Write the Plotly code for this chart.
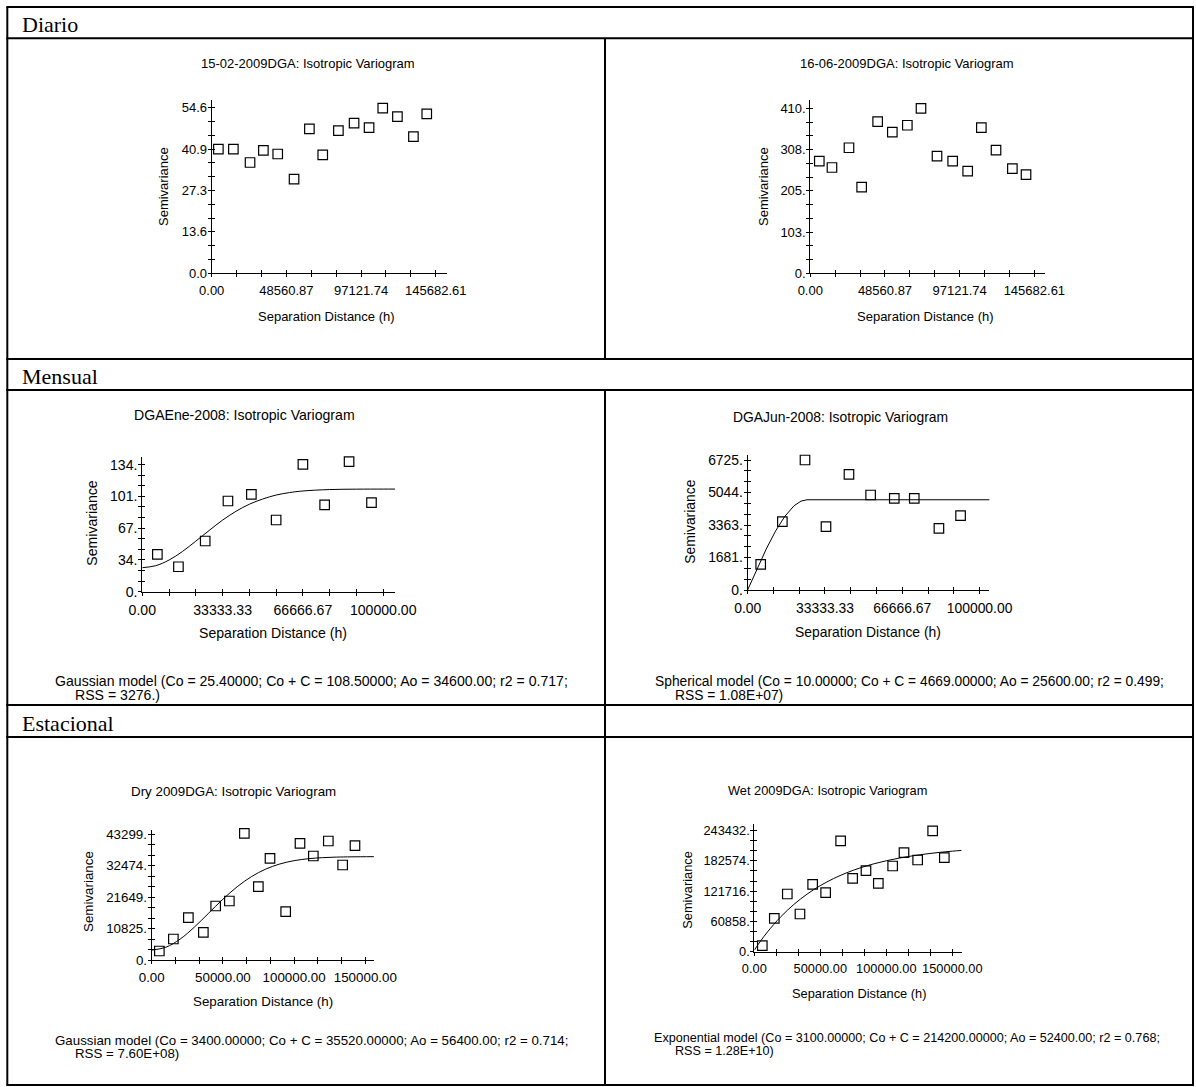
import numpy as np
import plotly.graph_objects as go

W, H = 1196, 1087

# ---------------- data ----------------
row_labels = ["Diario", "Mensual", "Estacional"]

titles = [
    "15-02-2009DGA: Isotropic Variogram",
    "16-06-2009DGA: Isotropic Variogram",
    "DGAEne-2008: Isotropic Variogram",
    "DGAJun-2008: Isotropic Variogram",
    "Dry 2009DGA: Isotropic Variogram",
    "Wet 2009DGA: Isotropic Variogram",
]
x_title = "Separation Distance (h)"
y_title = "Semivariance"

# panel 1: 15-02-2009
p1_x = [4336, 14091, 24932, 33603, 42925, 53548, 63520, 72192, 82381, 92570,
        102325, 111214, 120753, 131159, 139830]
p1_y = [40.9, 40.9, 36.5, 40.5, 39.3, 31.0, 47.6, 39.0, 47.0, 49.5, 48.0, 54.4, 51.6, 45.0, 52.5]
p1_xticks = [0.0, 48560.87, 97121.74, 145682.61]
p1_xlabels = ["0.00", "48560.87", "97121.74", "145682.61"]
p1_yticks = [0.0, 13.65, 27.3, 40.95, 54.6]
p1_ylabels = ["0.0", "13.6", "27.3", "40.9", "54.6"]

# panel 2: 16-06-2009
p2_x = [5853, 14091, 25147, 33386, 43792, 53331, 63087, 71975, 82381, 92570,
        102325, 111214, 120753, 131376, 140264]
p2_y = [279, 263, 312, 214, 377, 351, 368, 410, 291, 279, 254, 362, 306, 260, 245]
p2_xticks = [0.0, 48560.87, 97121.74, 145682.61]
p2_xlabels = ["0.00", "48560.87", "97121.74", "145682.61"]
p2_yticks = [0.0, 102.5, 205.0, 307.5, 410.0]
p2_ylabels = ["0.", "103.", "205.", "308.", "410."]

# panel 3: DGAEne-2008 (Gaussian)
p3_x = [6250, 15000, 26111, 35556, 45278, 55556, 66667, 75694, 85833, 95139]
p3_y = [39.5, 26.4, 53.6, 95.9, 103.0, 75.8, 134.7, 91.7, 137.5, 94.1]
p3_cx = [0, 5556, 11111, 16667, 22222, 27778, 33333, 38889, 44444, 50000, 55556,
         61111, 66667, 77778, 88889, 100000, 105000]
p3_cy = [25.4, 27.5, 33.5, 42.5, 53.5, 64.8, 75.7, 85.0, 92.5, 98.0, 102.2,
         104.8, 106.5, 108.0, 108.4, 108.5, 108.5]
p3_xticks = [0.0, 33333.33, 66666.67, 100000.0]
p3_xlabels = ["0.00", "33333.33", "66666.67", "100000.00"]
p3_yticks = [0.0, 33.6, 67.2, 100.8, 134.4]
p3_ylabels = ["0.", "34.", "67.", "101.", "134."]

# panel 4: DGAJun-2008 (Spherical)
p4_x = [5603, 14943, 24713, 33764, 43678, 53017, 63218, 71839, 82471, 91810]
p4_y = [1328, 3535, 6725, 3276, 5984, 4915, 4742, 4742, 3190, 3845]
p4_cx = [0, 4000, 8000, 12000, 16000, 20000, 23000, 25600, 105000]
p4_cy = [10, 1093, 2123, 3046, 3809, 4359, 4599, 4669, 4669]
p4_xticks = [0.0, 33333.33, 66666.67, 100000.0]
p4_xlabels = ["0.00", "33333.33", "66666.67", "100000.00"]
p4_yticks = [0.0, 1681.25, 3362.5, 5043.75, 6725.0]
p4_ylabels = ["0.", "1681.", "3363.", "5044.", "6725."]

# panel 5: Dry 2009 (Gaussian)
p5_x = [5382, 15211, 25741, 36271, 44930, 54524, 65055, 74883, 83073, 94071,
        104134, 113494, 124025, 134087, 142745]
p5_y = [3093, 7216, 14547, 9507, 18557, 20275, 43528, 25200, 34937, 16610,
        40092, 35739, 40894, 32646, 39290]
p5_cx = [0, 10000, 20000, 30000, 40000, 50000, 60000, 70000, 80000, 90000,
         100000, 110000, 120000, 130000, 140000, 156000]
p5_cy = [3400, 4395, 7194, 11315, 16097, 20883, 25161, 28637, 31225, 33002,
         34136, 34804, 35173, 35363, 35452, 35510]
p5_xticks = [0.0, 50000.0, 100000.0, 150000.0]
p5_xlabels = ["0.00", "50000.00", "100000.00", "150000.00"]
p5_yticks = [0.0, 10824.75, 21649.5, 32474.25, 43299.0]
p5_ylabels = ["0.", "10825.", "21649.", "32474.", "43299."]

# panel 6: Wet 2009 (Exponential)
p6_x = [6061, 15152, 25000, 34596, 44192, 54040, 65404, 74495, 84596, 93939,
        104798, 113384, 123737, 135101, 143939]
p6_y = [12071, 67062, 116017, 75779, 135464, 118700, 222645, 147535, 162959,
        137476, 172348, 199173, 184419, 242761, 189113]
p6_cx = [0, 5000, 10000, 20000, 30000, 40000, 50000, 60000, 70000, 80000, 90000,
         100000, 110000, 120000, 130000, 140000, 150000, 157000]
p6_cy = [3100, 22310, 39770, 70080, 95120, 115800, 132900, 147030, 158700, 168350,
         176330, 182900, 188340, 192820, 196540, 199610, 202150, 203650]
p6_xticks = [0.0, 50000.0, 100000.0, 150000.0]
p6_xlabels = ["0.00", "50000.00", "100000.00", "150000.00"]
p6_yticks = [0.0, 60858.0, 121716.0, 182574.0, 243432.0]
p6_ylabels = ["0.", "60858.", "121716.", "182574.", "243432."]

captions = [
    None,
    None,
    ("Gaussian model (Co = 25.40000; Co + C = 108.50000; Ao = 34600.00; r2 = 0.717;",
     "RSS = 3276.)"),
    ("Spherical model (Co = 10.00000; Co + C = 4669.00000; Ao = 25600.00; r2 = 0.499;",
     "RSS = 1.08E+07)"),
    ("Gaussian model (Co = 3400.00000; Co + C = 35520.00000; Ao = 56400.00; r2 = 0.714;",
     "RSS = 7.60E+08)"),
    ("Exponential model (Co = 3100.00000; Co + C = 214200.00000; Ao = 52400.00; r2 = 0.768;",
     "RSS = 1.28E+10)"),
]

series = [
    (p1_x, p1_y, None, None, p1_xticks, p1_xlabels, p1_yticks, p1_ylabels),
    (p2_x, p2_y, None, None, p2_xticks, p2_xlabels, p2_yticks, p2_ylabels),
    (p3_x, p3_y, p3_cx, p3_cy, p3_xticks, p3_xlabels, p3_yticks, p3_ylabels),
    (p4_x, p4_y, p4_cx, p4_cy, p4_xticks, p4_xlabels, p4_yticks, p4_ylabels),
    (p5_x, p5_y, p5_cx, p5_cy, p5_xticks, p5_xlabels, p5_yticks, p5_ylabels),
    (p6_x, p6_y, p6_cx, p6_cy, p6_xticks, p6_xlabels, p6_yticks, p6_ylabels),
]

# ---------------- layout (pixel geometry) ----------------
geom = [
    dict(box=(211.7, 446.7, 100.0, 273.3), xmax=152800, ymax=57.1, fs=13.0,
         title=(307.5, 63.3), xlab=(326.7, 316.7), ylab=(163.3, 186.7), cap=None, shape="spline"),
    dict(box=(810.3, 1045.0, 100.0, 273.3), xmax=152600, ymax=430.7, fs=13.0,
         title=(906.7, 63.3), xlab=(925.8, 316.7), ylab=(763.3, 186.7), cap=None, shape="spline"),
    dict(box=(142.3, 395.0, 457.3, 591.7), xmax=104900, ymax=142.1, fs=14.1,
         title=(244.0, 415.0), xlab=(273.3, 633.3), ylab=(91.7, 523.0),
         cap=((53.0, 680.5), (73.0, 695.0)), shape="spline"),
    dict(box=(747.7, 989.3, 455.0, 590.0), xmax=104200, ymax=6984, fs=13.9,
         title=(840.8, 416.7), xlab=(867.5, 631.7), ylab=(690.0, 521.7),
         cap=((652.5, 681.0), (672.5, 695.0)), shape="linear"),
    dict(box=(151.7, 374.0, 830.0, 960.0), xmax=156100, ymax=44674, fs=13.35,
         title=(233.0, 791.7), xlab=(263.3, 1001.7), ylab=(88.3, 891.7),
         cap=((52.5, 1040.0), (73.0, 1053.5)), shape="spline"),
    dict(box=(754.3, 961.7, 824.3, 951.7), xmax=157100, ymax=256174, fs=12.8,
         title=(827.5, 790.0), xlab=(859.0, 993.3), ylab=(686.7, 890.0),
         cap=((652.0, 1038.0), (672.5, 1051.0)), shape="spline"),
]
cap_fs = [None, None, 14.1, 13.8, 13.3, 12.6]


def PX(x):
    return x / W


def PY(y):
    return 1 - y / H


def all_ticks(major, labels, vmax, sub=3):
    step = (major[1] - major[0]) / sub
    n = int(np.floor(vmax / step + 1e-9))
    vals = [k * step for k in range(n + 1)]
    texts = []
    for v in vals:
        lab = ""
        for m, l in zip(major, labels):
            if abs(v - m) < step * 0.01:
                lab = l
        texts.append(lab)
    return vals, texts


FONT = "Liberation Sans, Arial, sans-serif"
SERIF = "Liberation Serif, Times New Roman, serif"

fig = go.Figure()
layout = dict(
    width=W, height=H, margin=dict(l=0, r=0, t=0, b=0, pad=0, autoexpand=False),
    paper_bgcolor="white", plot_bgcolor="white", showlegend=False,
    font=dict(family=FONT, size=13, color="black"),
)
annotations = []
shapes = []

for i, (s, g) in enumerate(zip(series, geom), start=1):
    xs, ys, cx, cy, xt, xl, yt, yl = s
    xl_, xr_, yt_, yb_ = g["box"]
    fs = g["fs"]
    xvals, xtexts = all_ticks(xt, xl, g["xmax"])
    yvals, ytexts = all_ticks(yt, yl, g["ymax"])

    common = dict(showgrid=False, zeroline=False, showline=True, linecolor="black",
                  linewidth=1, ticks="outside", ticklen=3, tickwidth=1, tickcolor="black",
                  tickfont=dict(family=FONT, size=fs, color="black"), fixedrange=True,
                  automargin=False)
    layout[f"xaxis{i}"] = dict(common, domain=[PX(xl_), PX(xr_)], range=[0, g["xmax"]],
                               anchor=f"y{i}", tickmode="array", tickvals=xvals,
                               ticktext=xtexts, ticklabelstandoff=2)
    layout[f"yaxis{i}"] = dict(common, domain=[PY(yb_), PY(yt_)], range=[0, g["ymax"]],
                               anchor=f"x{i}", tickmode="array", tickvals=yvals,
                               ticktext=ytexts, ticklabelstandoff=-2)
    # overlay axes giving the inner half of the crossing ticks
    ov = dict(showgrid=False, zeroline=False, showline=False, ticks="inside", ticklen=3,
              tickwidth=1, tickcolor="black", showticklabels=False, fixedrange=True,
              automargin=False, tickmode="array")
    layout[f"xaxis{i + 6}"] = dict(ov, overlaying=f"x{i}", anchor=f"y{i}",
                                   range=[0, g["xmax"]], tickvals=xvals)
    layout[f"yaxis{i + 6}"] = dict(ov, overlaying=f"y{i}", anchor=f"x{i}",
                                   range=[0, g["ymax"]], tickvals=yvals)
    fig.add_trace(go.Scatter(x=[None], y=[None], xaxis=f"x{i + 6}", yaxis=f"y{i + 6}",
                             mode="markers", hoverinfo="skip", showlegend=False))

    if cx is not None:
        fig.add_trace(go.Scatter(x=cx, y=cy, xaxis=f"x{i}", yaxis=f"y{i}", mode="lines",
                                 line=dict(color="black", width=1, shape=g["shape"]),
                                 hoverinfo="skip", cliponaxis=False))
    fig.add_trace(go.Scatter(x=xs, y=ys, xaxis=f"x{i}", yaxis=f"y{i}", mode="markers",
                             marker=dict(symbol="square-open", size=9.5, color="black",
                                         line=dict(width=1.2, color="black")),
                             cliponaxis=False))

    f = dict(family=FONT, size=fs, color="black")
    tx, ty = g["title"]
    annotations.append(dict(x=PX(tx), y=PY(ty), xref="paper", yref="paper", text=titles[i - 1],
                            showarrow=False, xanchor="center", yanchor="middle", font=f))
    lx, ly = g["xlab"]
    annotations.append(dict(x=PX(lx), y=PY(ly), xref="paper", yref="paper", text=x_title,
                            showarrow=False, xanchor="center", yanchor="middle", font=f))
    vx, vy = g["ylab"]
    annotations.append(dict(x=PX(vx), y=PY(vy), xref="paper", yref="paper", text=y_title,
                            showarrow=False, xanchor="center", yanchor="middle",
                            textangle=-90, font=f))
    if g["cap"] is not None:
        (c1x, c1y), (c2x, c2y) = g["cap"]
        l1, l2 = captions[i - 1]
        cf = dict(family=FONT, size=cap_fs[i - 1], color="black")
        annotations.append(dict(x=PX(c1x), y=PY(c1y), xref="paper", yref="paper", text=l1,
                                showarrow=False, xanchor="left", yanchor="middle", font=cf))
        annotations.append(dict(x=PX(c2x), y=PY(c2y), xref="paper", yref="paper", text=l2,
                                showarrow=False, xanchor="left", yanchor="middle", font=cf))

# ---------------- table frame ----------------
TL, TR, TT, TB = 7.3, 1193.0, 7.0, 1085.0
DIV = 605.0
hlines = [TT, 38.3, 359.0, 390.0, 705.0, 737.0, TB]
for yy in hlines:
    shapes.append(dict(type="line", xref="paper", yref="paper", x0=PX(TL - 1), x1=PX(TR + 1),
                       y0=PY(yy), y1=PY(yy), line=dict(color="black", width=2)))
for xx in [TL, TR]:
    shapes.append(dict(type="line", xref="paper", yref="paper", x0=PX(xx), x1=PX(xx),
                       y0=PY(TT), y1=PY(TB), line=dict(color="black", width=2)))
for (y0, y1) in [(38.3, 359.0), (390.0, 705.0), (705.0, TB)]:
    shapes.append(dict(type="line", xref="paper", yref="paper", x0=PX(DIV), x1=PX(DIV),
                       y0=PY(y0), y1=PY(y1), line=dict(color="black", width=2)))

header_pos = [(20.0, 24.5), (20.0, 377.0), (20.0, 723.5)]
for lab, (hx, hy) in zip(row_labels, header_pos):
    annotations.append(dict(x=PX(hx), y=PY(hy), xref="paper", yref="paper", text=lab,
                            showarrow=False, xanchor="left", yanchor="middle",
                            font=dict(family=SERIF, size=22, color="black")))

layout["annotations"] = annotations
layout["shapes"] = shapes
fig.update_layout(**layout)
fig.write_html("out.html",
               config={"displayModeBar": False, "staticPlot": True},
               post_script="document.body.style.margin='0';document.body.style.overflow='hidden';")
